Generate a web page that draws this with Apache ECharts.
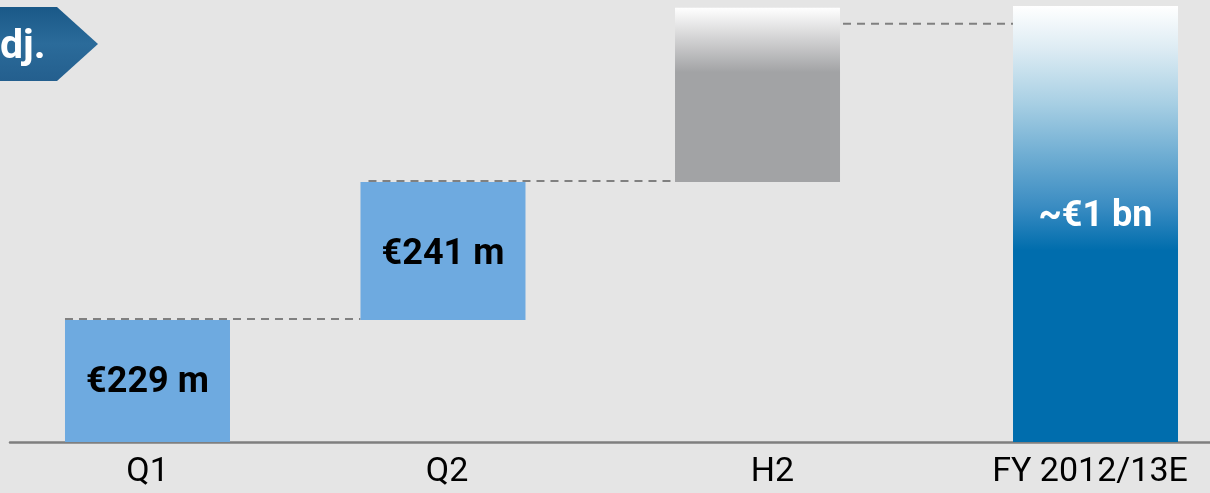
<!DOCTYPE html>
<html>
<head>
<meta charset="utf-8">
<script src="https://cdn.jsdelivr.net/npm/echarts@6/dist/echarts.min.js"></script>
<style>
  html, body { margin: 0; padding: 0; background: #e5e5e5; }
  #chart { width: 1210px; height: 493px; }
</style>
</head>
<body>
<div id="chart"></div>
<script>
// waterfall values (units scaled so that Q1 = 229)
const categories = ['Q1', 'Q2', 'H2', 'FY 2012/13E']
const barBase = [0, 229, 488, 0]
const barHeight = [229, 259, 327, 818]
const connectorLevel = [229, 488, 783]
const barLabels = ['€229 m', '€241 m', '', '~€1 bn']

// layout: the slide spaces its columns a bit unevenly
const barSlot = [0, 0.9351, 1.9304, 3]
const labelSlot = [0, 0.9478, 1.9778, 2.9826]
const BAR_W = 165
const FONT = 'Roboto, "DejaVu Sans", sans-serif'

const grad = (stops) => new echarts.graphic.LinearGradient(0, 0, 0, 1,
  stops.map(s => ({ offset: s[0], color: s[1] })))

const barColors = [
  '#6eaae0',
  '#6eaae0',
  grad([[0, '#ffffff'], [0.18, '#d2d2d3'], [0.37, '#a2a3a5'], [1, '#a2a3a5']]),
  grad([[0, '#ffffff'], [0.1, '#dcebf3'], [0.22, '#a9d0e4'], [0.34, '#70aed3'],
        [0.46, '#3a8cc2'], [0.56, '#006dad'], [1, '#006dad']])
]
const labelColors = ['#000', '#000', '#000', '#fff']
const labelOffsets = [[0, 2], [0, 4], [0, 0], [0, -7]]

const nearestLabel = v => {
  let best = 0
  labelSlot.forEach((s, i) => { if (Math.abs(s - v) < Math.abs(labelSlot[best] - v)) best = i })
  return categories[best]
}

const chart = echarts.init(document.getElementById('chart'))

const option = {
  backgroundColor: '#e5e5e5',
  animation: false,
  grid: { left: 10, right: 0, top: 5, bottom: 51 },
  xAxis: {
    type: 'value',
    min: -0.4351,
    max: 3.3623,
    splitLine: { show: false },
    axisLine: { onZero: false, lineStyle: { color: '#7f7f7f', width: 2.5 } },
    axisTick: { show: false },
    axisLabel: {
      customValues: labelSlot,
      formatter: nearestLabel,
      color: '#000', fontSize: 34, fontFamily: FONT, margin: 13
    }
  },
  yAxis: {
    type: 'value', min: 0, max: 820,
    show: false, splitLine: { show: false }
  },
  graphic: [
    {
      type: 'polygon',
      shape: { points: [[0, 7], [57, 7], [98, 44], [57, 81], [0, 81]] },
      style: { fill: grad([[0, '#1a5988'], [0.5, '#2b6b9a'], [1, '#245f8e']]) }
    },
    {
      type: 'text', left: 0, top: 27,
      style: { text: 'dj.', fill: '#fff', font: 'bold 41px ' + FONT, x: -9 }
    }
  ],
  series: [
    {
      type: 'custom',
      z: 1,
      data: connectorLevel.map((v, i) => [i, v]),
      renderItem (params, api) {
        const i = api.value(0)
        const lvl = api.value(1)
        const p = api.coord([barSlot[i], lvl])
        const q = api.coord([barSlot[i + 1], lvl])
        const start = i === 1 ? p[0] - BAR_W / 2 + 8 : p[0] - BAR_W / 2
        return {
          type: 'line',
          shape: { x1: start, y1: p[1] - 1, x2: q[0] - BAR_W / 2, y2: p[1] - 1 },
          style: { stroke: '#808080', lineWidth: 2, lineDash: [8, 6] }
        }
      }
    },
    {
      type: 'custom',
      z: 2,
      encode: { x: 0, y: [1, 2] },
      data: categories.map((c, i) => [barSlot[i], barBase[i], barBase[i] + barHeight[i]]),
      renderItem (params, api) {
        const idx = params.dataIndex
        const x = api.value(0)
        const lo = api.coord([x, api.value(1)])
        const hi = api.coord([x, api.value(2)])
        return {
          type: 'rect',
          shape: { x: lo[0] - BAR_W / 2, y: hi[1], width: BAR_W, height: lo[1] - hi[1] },
          style: { fill: barColors[idx] },
          textContent: {
            style: {
              text: barLabels[idx],
              fill: labelColors[idx],
              font: 'bold 36px ' + FONT
            }
          },
          textConfig: { position: 'inside', offset: labelOffsets[idx] }
        }
      }
    }
  ]
}

chart.setOption(option)
</script>
</body>
</html>
